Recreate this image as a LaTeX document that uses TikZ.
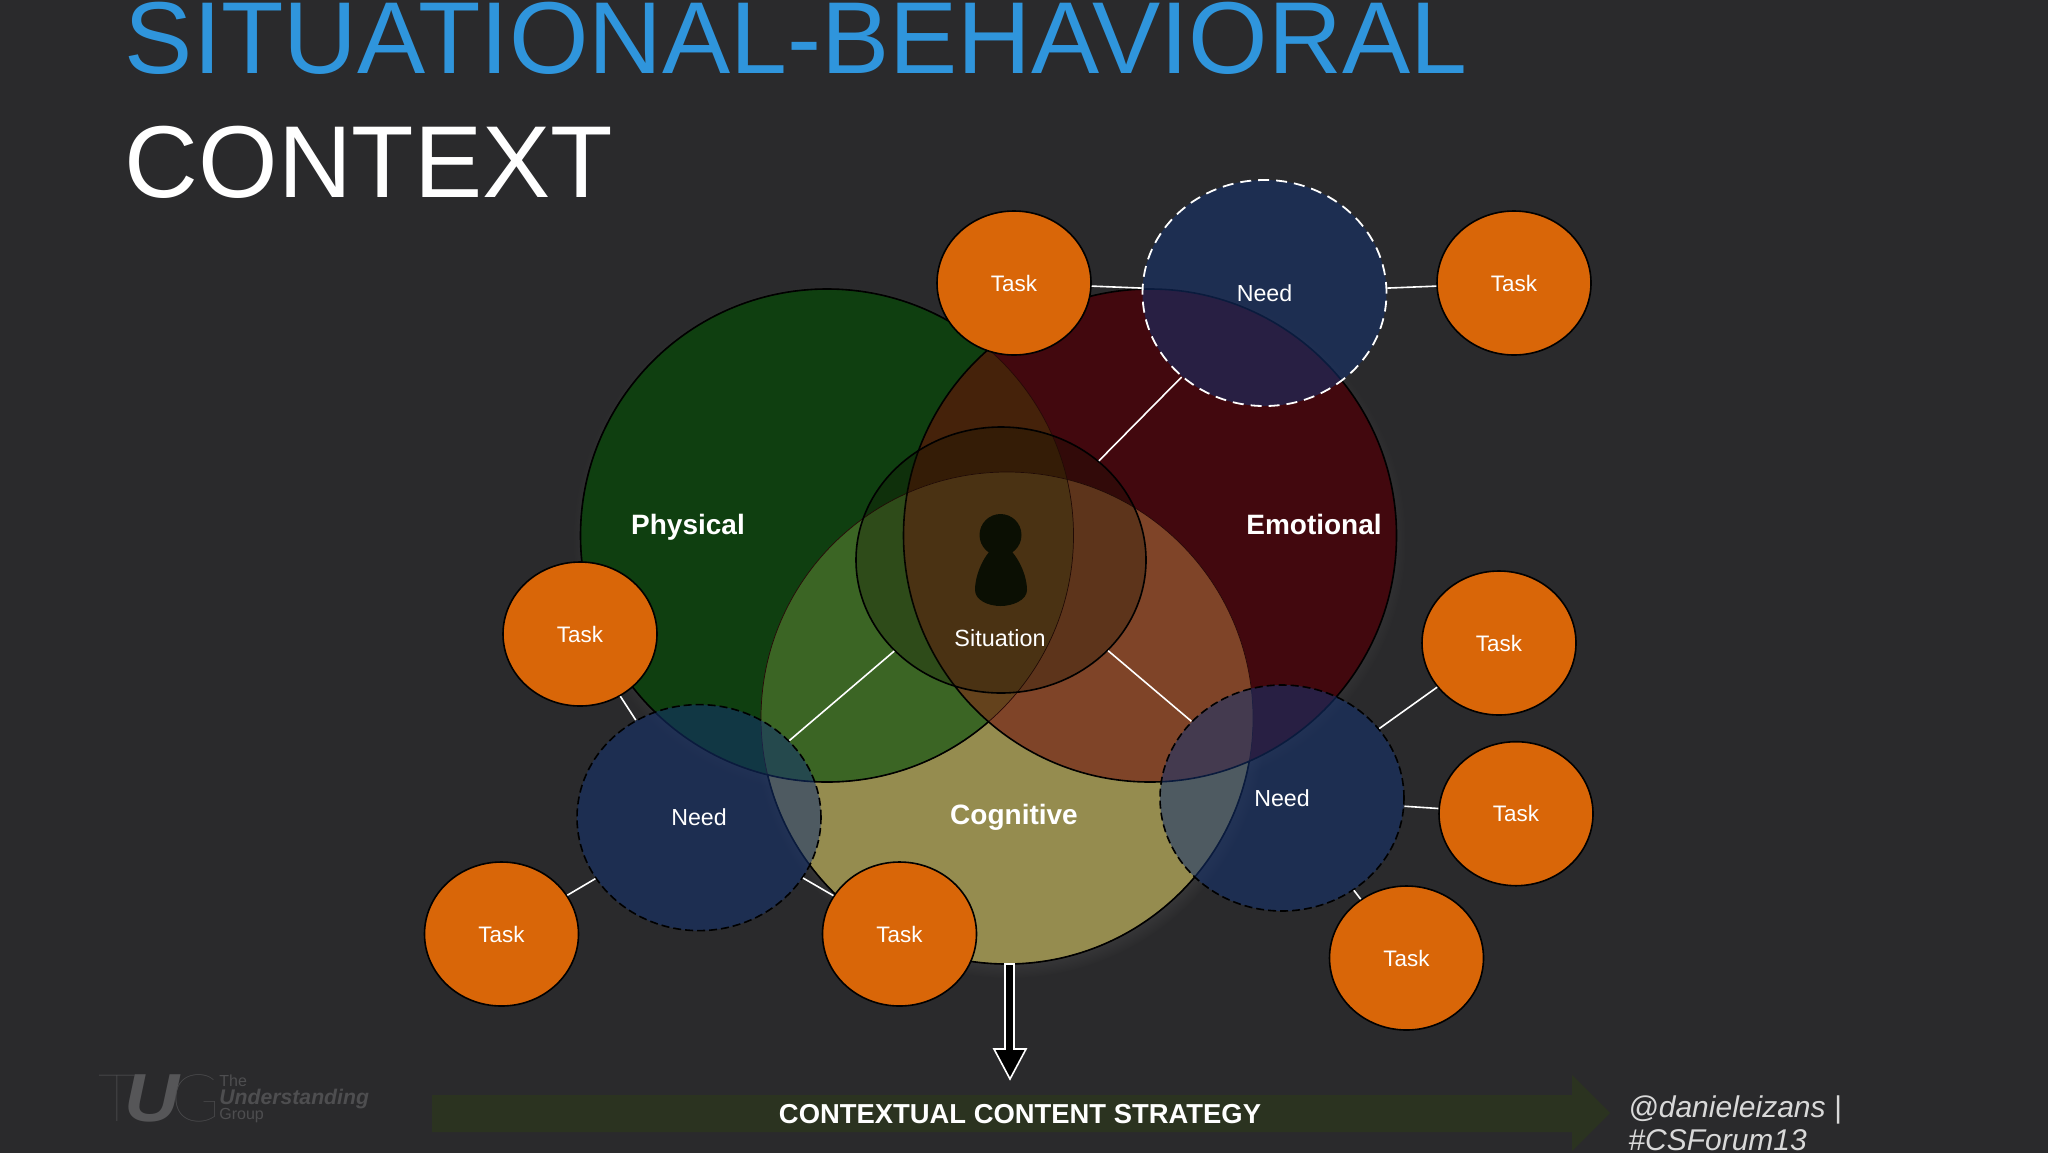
\documentclass[tikz,border=0pt]{standalone}
\usepackage{fontspec}
\setmainfont{Liberation Sans}
\newfontfamily\hairf{Lato Hairline}
\usetikzlibrary{shapes.geometric,shadows}
\definecolor{bgc}{RGB}{42,42,44}
\definecolor{tasko}{RGB}{217,102,8}
\definecolor{needb}{RGB}{20,50,112}
\definecolor{logog}{RGB}{78,78,80}
\definecolor{logou}{RGB}{86,86,88}
\definecolor{titleb}{RGB}{47,149,220}
\definecolor{regY}{RGB}{149,140,79}
\definecolor{regG}{RGB}{15,63,16}
\definecolor{regR}{RGB}{66,8,14}
\definecolor{regGR}{RGB}{69,34,10}
\definecolor{regGY}{RGB}{59,101,36}
\definecolor{regRY}{RGB}{127,68,40}
\definecolor{regGRY}{RGB}{100,66,28}
\definecolor{faintl}{RGB}{40,8,8}
\definecolor{person}{RGB}{10,15,5}
\definecolor{stratc}{RGB}{43,51,32}
\definecolor{sitf}{RGB}{16,16,0}
\def\cG{(827,535.5) circle[radius=246.5]}
\def\cR{(1150,535.5) circle[radius=246.5]}
\def\cY{(1007,718) circle[radius=246]}
\tikzset{
  taskn/.style={ellipse,draw=black,line width=.8pt,fill=tasko,text=white,inner sep=0pt,minimum width=77pt,minimum height=72pt,font=\fontsize{11.2}{13}\selectfont},
  needn/.style={ellipse,fill=needb,fill opacity=.55,text opacity=1,draw opacity=1,text=white,inner sep=0pt,minimum width=122pt,minimum height=113pt,line width=.8pt,font=\fontsize{11.6}{13}\selectfont},
  needk/.style={needn,draw=black,dash pattern=on 4pt off 2pt},
  needw/.style={needn,draw=white,line width=.9pt,dash pattern=on 5.5pt off 3.5pt},
  sitn/.style={ellipse,draw=black,line width=.8pt,fill=sitf,fill opacity=.3,draw opacity=1,inner sep=0pt,minimum width=145pt,minimum height=133pt},
  link/.style={draw=white,line width=.8pt},
  venlab/.style={anchor=base,text=white,font=\bfseries\fontsize{14}{16}\selectfont,inner sep=0pt},
  logot/.style={text=logog,inner sep=0pt,anchor=west}
}
\begin{document}
\begin{tikzpicture}[x=.5pt,y=-.5pt]
\useasboundingbox (0,0) rectangle (2048,1152);
\clip (-6,-6) rectangle (2054,1158);
\fill[bgc] (-6,-6) rectangle (2054,1158);
% title
\node[anchor=base west,inner sep=0pt,text=titleb,font=\fontsize{51.1}{60}\selectfont] (title1) at (124.5,73.5) {SITUATIONAL-BEHAVIORAL};
\node[anchor=base west,inner sep=0pt,text=white,font=\fontsize{51.1}{60}\selectfont] (title2) at (124.5,197) {CONTEXT};
% shadows
\fill[black,circular drop shadow={shadow xshift=1pt,shadow yshift=-2pt,opacity=.35,shadow scale=1.04}] \cY;
\fill[black,circular drop shadow={shadow xshift=1pt,shadow yshift=-2pt,opacity=.25,shadow scale=1.03}] \cR;
\fill[black,circular drop shadow={shadow xshift=0pt,shadow yshift=-2pt,opacity=.25,shadow scale=1.03}] \cG;
% venn regions
\fill[regY] \cY;
\fill[regG] \cG;
\fill[regR] \cR;
\begin{scope}\clip \cG; \fill[regGR] \cR; \fill[regGY] \cY; \end{scope}
\begin{scope}\clip \cR; \fill[regRY] \cY; \end{scope}
\begin{scope}\clip \cG; \clip \cR; \fill[regGRY] \cY; \end{scope}
% outlines
\draw[faintl,line width=.35pt] \cY;
\draw[faintl,line width=.35pt] \cG;
\begin{scope}[even odd rule]
  \clip (0,0) rectangle (2048,1152) \cR;
  \draw[black,line width=.8pt] \cG;
  \begin{scope}[even odd rule]
    \clip (0,0) rectangle (2048,1152) \cG;
    \draw[black,line width=.8pt] \cY;
  \end{scope}
\end{scope}
\draw[black,line width=.8pt] \cR;
% person
\fill[person] (1000.5,535) circle[radius=21];
\fill[person] (1000.5,543) .. controls (1014,548) and (1027,572) .. (1027,590) .. controls (1027,600) and (1013,606) .. (1000.5,606) .. controls (988,606) and (975,600) .. (975,590) .. controls (975,572) and (987,548) .. (1000.5,543) -- cycle;
% nodes
\node[sitn] (sit) at (1001,560) {};
\node[needw] (needT) at (1264.5,293) {Need};
\node[needk] (needL) at (699,817.6) {Need};
\node[needk] (needR) at (1282,798) {Need};
\node[taskn] (t1) at (1014,283) {Task};
\node[taskn] (t2) at (1514,283) {Task};
\node[taskn] (t3) at (580,634) {Task};
\node[taskn] (t4) at (501.5,934) {Task};
\node[taskn] (t5) at (899.5,934) {Task};
\node[taskn] (t6) at (1499,643) {Task};
\node[taskn] (t7) at (1516,813.7) {Task};
\node[taskn] (t8) at (1406.5,958) {Task};
% connectors
\draw[link] (sit) -- (needT);
\draw[link] (sit) -- (needL);
\draw[link] (sit) -- (needR);
\draw[link] (t1) -- (needT);
\draw[link] (t2) -- (needT);
\draw[link] (t3) -- (needL);
\draw[link] (t4) -- (needL);
\draw[link] (t5) -- (needL);
\draw[link] (t6) -- (needR);
\draw[link] (t7) -- (needR);
\draw[link] (t8) -- (needR);
% labels
\node[venlab] (phys) at (688,534) {Physical};
\node[venlab] (emo) at (1314,534) {Emotional};
\node[venlab] (cog) at (1014,824) {Cognitive};
\node[text=white,inner sep=0pt,font=\fontsize{11.7}{13}\selectfont] (sitl) at (1000,638) {Situation};
% down arrow
\draw[white,fill=black,line width=.8pt,line join=miter] (1005,964) -- (1014,964) -- (1014,1049) -- (1026,1049) -- (1010,1079) -- (994,1049) -- (1005,1049) -- cycle;
% strategy arrow
\fill[stratc] (432,1095) -- (1572,1095) -- (1572,1075) -- (1610,1113) -- (1572,1151) -- (1572,1132) -- (432,1132) -- cycle;
\node[text=white,inner sep=0pt,font=\bfseries\fontsize{13.7}{16}\selectfont] (strat) at (1020,1114) {CONTEXTUAL CONTENT STRATEGY};
% handle
\node[anchor=base west,inner sep=0pt,text=black!15,font=\itshape\fontsize{15}{16}\selectfont] (h1) at (1628,1117) {@danieleizans |};
\node[anchor=base west,inner sep=0pt,text=black!15,font=\itshape\fontsize{15}{16}\selectfont] (h2) at (1628,1150) {\#CSForum13};
% logo
\node[anchor=base west,inner sep=0pt,text=logog,font=\hairf\fontsize{33}{33}\selectfont] (lT) at (98,1121) {T};
\node[anchor=base west,inner sep=0pt,text=logou,xscale=1.12,font=\bfseries\itshape\fontsize{34}{34}\selectfont] (lU) at (124,1121) {U};
\node[anchor=base west,inner sep=0pt,text=logog,font=\hairf\fontsize{33}{33}\selectfont] (lG) at (171,1121) {G};
\node[logot,font=\fontsize{8}{9}\selectfont] (l1) at (219,1081) {The};
\node[logot,font=\bfseries\itshape\fontsize{10.6}{11}\selectfont] (l2) at (219,1099) {Understanding};
\node[logot,font=\fontsize{8}{9}\selectfont] (l3) at (219,1116) {Group};
\end{tikzpicture}
\end{document}
